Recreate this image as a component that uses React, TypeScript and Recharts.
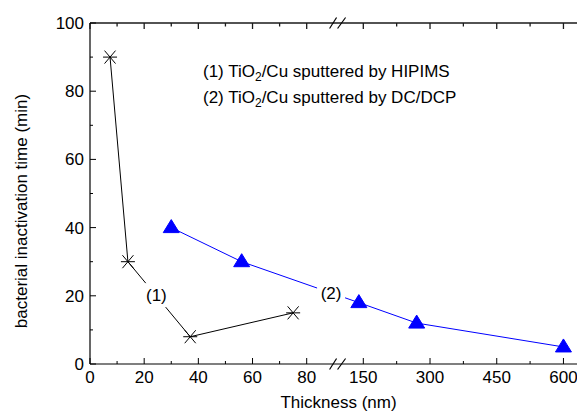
import React from 'react';
import { LineChart, Line, XAxis, YAxis, ReferenceDot, ReferenceLine } from 'recharts';

// ---- data ----
const hipimsThickness = [7.4, 14, 37, 75];
const hipimsTime = [90, 30, 8, 15];
const dcThickness = [30, 56, 140, 270, 600];
const dcTime = [40, 30, 18, 12, 5];

const leftTicks = [0, 10, 20, 30, 40, 50, 60, 70, 80];
const rightTicks = [150, 225, 300, 375, 450, 525, 600];
const labeledTicks = [0, 20, 40, 60, 80, 150, 300, 450, 600];
const yTicks = [0, 10, 20, 30, 40, 50, 60, 70, 80, 90, 100];
const yLabeled = [0, 20, 40, 60, 80, 100];

const seriesLabels = [
  { text: '(1)', thickness: 24.5, time: 20.2, w: 25 },
  { text: '(2)', thickness: 89.0, time: 20.8, w: 28 },
];

// ---- broken-axis transform ----
const CUT = 92;
const A = 76.27;
const B = 0.1642;
const toU = (x: number) => (x < CUT ? x : A + B * x);
const fromU = (u: number) => (u < CUT ? u : (u - A) / B);
const BREAK_U = 91.4;
const X_MAX_U = 180.9;
const Y_MAX = 100;

const hipimsData = hipimsThickness.map((x, i) => ({ u: toU(x), y: hipimsTime[i] }));
const dcData = dcThickness.map((x, i) => ({ u: toU(x), y: dcTime[i] }));
const allXTicks = [...leftTicks, ...rightTicks];
const xTicksU = allXTicks.map(toU);

const FONT = '"Liberation Sans", Arial, sans-serif';
const FS = 17;
const FRAME = '#1a1a1a';

const XTickBottom = (props: any) => {
  const { x, y, payload } = props;
  const v = Math.round(fromU(payload.value));
  const major = labeledTicks.includes(v);
  return (
    <g>
      <line x1={x} x2={x} y1={y} y2={y - (major ? 6 : 3)} stroke="#000" strokeWidth={1} />
      {major && (
        <text x={x} y={y + 19} textAnchor="middle" fontSize={FS} fontFamily={FONT} fill="#000">
          {v}
        </text>
      )}
    </g>
  );
};

const makeTopTick = (major: boolean) => (props: any) => {
  const { cx, cy } = props;
  return (
    <g>
      <line x1={cx} x2={cx} y1={cy} y2={cy + (major ? 6 : 3.5)} stroke={FRAME} strokeWidth={1.3} />
    </g>
  );
};

const YTick = (props: any) => {
  const { x, y, payload } = props;
  const v = payload.value;
  const major = yLabeled.includes(v);
  return (
    <g>
      <line x1={x} x2={x + (major ? 6 : 3)} y1={y} y2={y} stroke="#000" strokeWidth={1} />
      {major && (
        <text x={x - 6} y={y + 6} textAnchor="end" fontSize={FS} fontFamily={FONT} fill="#000">
          {v}
        </text>
      )}
    </g>
  );
};

const Star = (props: any) => {
  const { cx, cy } = props;
  if (cx == null || cy == null) return null;
  return (
    <g stroke="#000" strokeWidth={1}>
      <line x1={cx - 7} y1={cy} x2={cx + 7} y2={cy} />
      <line x1={cx - 5.5} y1={cy - 6.5} x2={cx + 5.5} y2={cy + 6.5} />
      <line x1={cx - 5.5} y1={cy + 6.5} x2={cx + 5.5} y2={cy - 6.5} />
    </g>
  );
};

const Tri = (props: any) => {
  const { cx, cy } = props;
  if (cx == null || cy == null) return null;
  return <path d={`M${cx},${cy - 8} L${cx + 8},${cy + 5} L${cx - 8},${cy + 5} Z`} fill="#0000FF" stroke="#0000FF" />;
};

const BreakMark = (props: any) => {
  const { cx, cy } = props;
  return (
    <g stroke="#000" strokeWidth={1.2}>
      <line x1={cx - 8} y1={cy + 5.5} x2={cx - 1} y2={cy - 5.5} />
      <line x1={cx} y1={cy + 5.5} x2={cx + 8} y2={cy - 5.5} />
    </g>
  );
};

const makeLabelShape = (text: string, w: number) => (props: any) => {
  const { cx, cy } = props;
  return (
    <g>
      <rect x={cx - w / 2} y={cy - 12} width={w} height={24} fill="#fff" />
      <text x={cx} y={cy + 6} textAnchor="middle" fontSize={FS} fontFamily={FONT} fill="#000">
        {text}
      </text>
    </g>
  );
};

const YTitle = () => (
  <text
    x={21}
    y={211}
    transform="rotate(-90 21 211)"
    textAnchor="middle"
    dominantBaseline="central"
    fontSize={FS}
    fontFamily={FONT}
    fill="#000"
  >
    bacterial inactivation time (min)
  </text>
);

export default function App() {
  return (
    <div style={{ position: 'absolute', left: 0, top: 0, width: 577, height: 412, overflow: 'hidden', background: '#fff' }}>
      <LineChart width={600} height={412} margin={{ top: 23, right: 20, bottom: 8, left: 0 }}>
        <XAxis
          dataKey="u"
          type="number"
          domain={[0, X_MAX_U]}
          ticks={xTicksU}
          interval={0}
          allowDataOverflow
          height={40}
          tickSize={0}
          tickMargin={0}
          tickLine={false}
          axisLine={{ stroke: '#000', strokeWidth: 1.2 }}
          tick={<XTickBottom />}
          label={(p: any) => (
            <text x={338.5} y={408} textAnchor="middle" fontSize={FS} fontFamily={FONT} fill="#000">
              Thickness (nm)
            </text>
          )}
        />
        <YAxis
          type="number"
          domain={[0, Y_MAX]}
          ticks={yTicks}
          interval={0}
          width={90}
          tickSize={0}
          tickMargin={0}
          tickLine={false}
          axisLine={{ stroke: '#000', strokeWidth: 1.2 }}
          tick={<YTick />}
          label={() => <YTitle />}
        />
        <ReferenceLine y={Y_MAX} stroke={FRAME} strokeWidth={1.5} ifOverflow="visible" />
        {allXTicks.map((t) => (
          <ReferenceDot
            key={'tt' + t}
            x={toU(t)}
            y={Y_MAX}
            r={0}
            ifOverflow="visible"
            shape={makeTopTick(labeledTicks.includes(t))}
          />
        ))}
        <Line
          data={hipimsData}
          dataKey="y"
          stroke="#000"
          strokeWidth={1}
          dot={<Star />}
          activeDot={false}
          isAnimationActive={false}
        />
        <Line
          data={dcData}
          dataKey="y"
          stroke="#0000FF"
          strokeWidth={1}
          dot={<Tri />}
          activeDot={false}
          isAnimationActive={false}
        />
        {seriesLabels.map((l) => (
          <ReferenceDot
            key={l.text}
            x={toU(l.thickness)}
            y={l.time}
            r={0}
            ifOverflow="visible"
            shape={makeLabelShape(l.text, l.w)}
          />
        ))}
        <ReferenceDot x={BREAK_U} y={0} r={0} ifOverflow="visible" shape={BreakMark} />
        <ReferenceDot x={BREAK_U} y={Y_MAX} r={0} ifOverflow="visible" shape={BreakMark} />
      </LineChart>
      <div
        style={{
          position: 'absolute',
          left: 203,
          top: 59,
          fontFamily: FONT,
          fontSize: FS,
          lineHeight: '25.5px',
          color: '#000',
          whiteSpace: 'nowrap',
        }}
      >
        <div>
          (1) TiO<sub style={{ fontSize: 12, verticalAlign: -4, lineHeight: 0 }}>2</sub>/Cu sputtered by HIPIMS
        </div>
        <div>
          (2) TiO<sub style={{ fontSize: 12, verticalAlign: -4, lineHeight: 0 }}>2</sub>/Cu sputtered by DC/DCP
        </div>
      </div>
    </div>
  );
}
